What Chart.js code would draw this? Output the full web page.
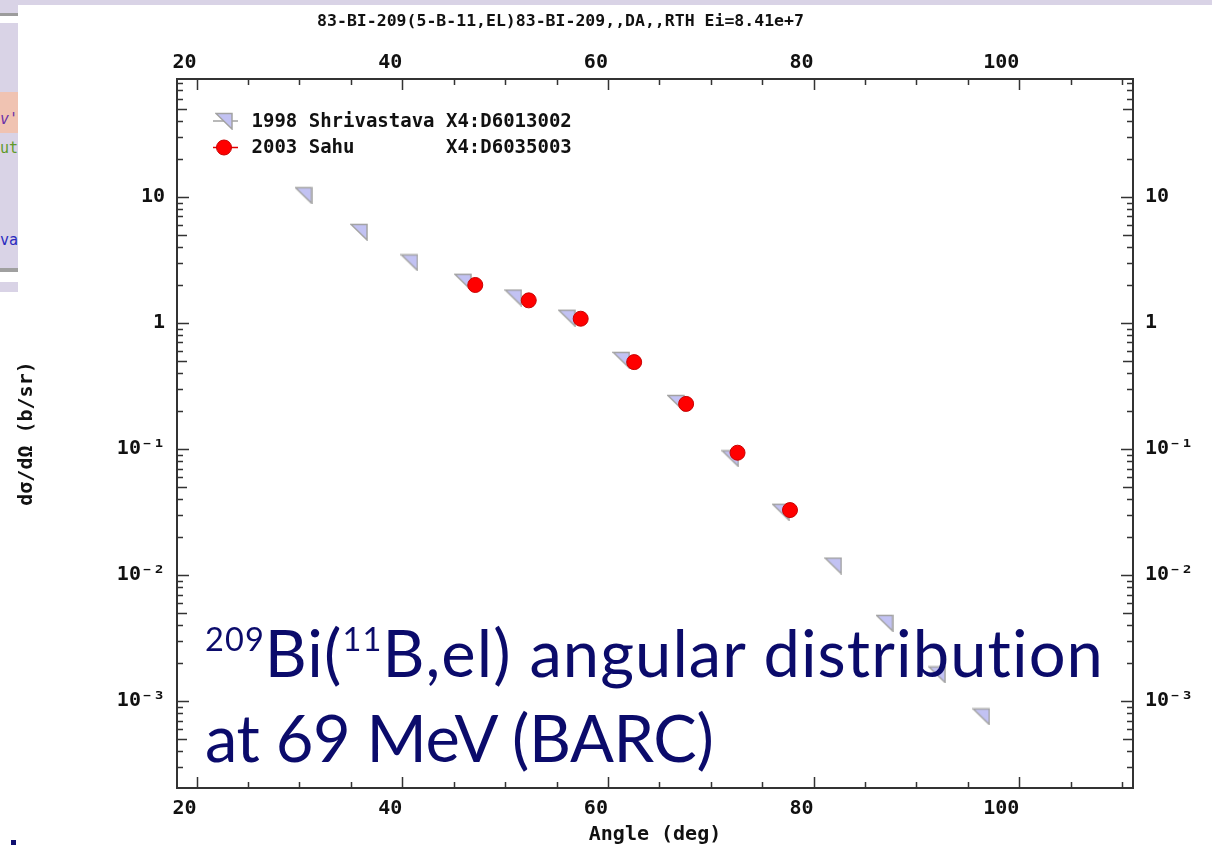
<!DOCTYPE html>
<html>
<head>
<meta charset="utf-8">
<script src="https://cdn.jsdelivr.net/npm/chart.js@4.4.0/dist/chart.umd.min.js"></script>
<style>
  html, body { margin: 0; padding: 0; background: #fff; }
  #wrap { position: relative; width: 1212px; height: 845px; overflow: hidden; background: #fff; }
  #plot { position: absolute; left: 0; top: 0; }
  #strip { position: absolute; left: 0; top: 0; width: 1212px; height: 5px; background: #d9d3e6; }
  #panel { position: absolute; left: 0; top: 0; width: 18px; height: 292px; overflow: hidden; background: #d9d3e6; }
  #panel .band { position: absolute; left: 0; width: 18px; }
  #panel .frag { position: absolute; right: 0; font: 15px "DejaVu Sans Mono", monospace; white-space: nowrap; }
  #dot { position: absolute; left: 11px; top: 840px; width: 5px; height: 5px; background: #101070; }
  #note { position: absolute; left: 205px; top: 610px; font-family: Lato, sans-serif; font-size: 65px;
          line-height: 85px; color: #0b0b6b; white-space: nowrap; font-variant-ligatures: none; }
  #note .l1 { letter-spacing: 1.1px; }
  #note .l2 { letter-spacing: -0.4px; }
  #note sup { font-size: 0.5em; line-height: 0; vertical-align: baseline; position: relative; top: -0.8em; }
</style>
</head>
<body>
<div id="wrap">
  <canvas id="plot" width="1212" height="845"></canvas>
  <div id="strip"></div>
  <div id="panel">
    <div class="band" style="top:13px;height:3px;background:#9c9c9c"></div>
    <div class="band" style="top:16px;height:7px;background:#fff"></div>
    <div class="band" style="top:92px;height:41px;background:#f0c3b2"></div>
    <div class="band" style="top:268px;height:4px;background:#a0a0a0"></div>
    <div class="band" style="top:272px;height:10px;background:#fff"></div>
    <span class="frag" style="top:110px;color:#6a2fa8;font-style:italic">v'</span>
    <span class="frag" style="top:139px;color:#5f9a2a">ut</span>
    <span class="frag" style="top:231px;color:#2b2bbf">va</span>
  </div>
  <div id="dot"></div>
  <div id="note"><span class="l1"><sup>209</sup>Bi(<sup>11</sup>B,el) angular distribution</span><br><span class="l2">at 69 MeV (BARC)</span></div>
</div>
<script>
// 83-Bi-209(5-B-11,el) differential cross sections, angle in deg, dσ/dΩ in b/sr
const shrAngle = [30.4, 35.8, 40.7, 45.9, 50.8, 56.0, 61.3, 66.6, 71.9, 76.8, 81.9, 86.9, 92.0, 96.3];
const shrSigma = [10.3, 5.27, 3.02, 2.12, 1.59, 1.10, 0.509, 0.232, 0.0844, 0.0318, 0.0119, 0.00418, 0.00163, 0.000757];

const sahAngle = [47.1, 52.3, 57.35, 62.55, 67.6, 72.6, 77.7];
const sahSigma = [2.00, 1.51, 1.08, 0.489, 0.228, 0.0935, 0.0328];

const xTicks = [20, 40, 60, 80, 100];
const yTicks = [10, 1, 0.1, 0.01, 0.001];
const yTickText = ['10', '1', '10⁻¹', '10⁻²', '10⁻³'];

const X_MIN = 18.1, X_MAX = 111.05;
const Y_MIN = 2.05e-4, Y_MAX = 86;

const plotTitle = '83-BI-209(5-B-11,EL)83-BI-209,,DA,,RTH Ei=8.41e+7';
const MONO = '"DejaVu Sans Mono", monospace';
const INK = '#111';

// lavender right-angle triangle used for the 1998 set
function makeTriangle() {
    const c = document.createElement('canvas');
    c.width = 18;
    c.height = 18;
    const g = c.getContext('2d');
    g.beginPath();
    g.moveTo(1, 1.5);
    g.lineTo(17, 1.5);
    g.lineTo(17, 17);
    g.closePath();
    g.fillStyle = '#c2c2f3';
    g.fill();
    g.strokeStyle = '#a2a2a2';
    g.lineWidth = 1.5;
    g.stroke();
    return c;
}
const triangle = makeTriangle();

// inward tick marks on all four sides of the frame
const frameTicks = {
    id: 'frameTicks',
    afterDraw(chart) {
        const { ctx, chartArea: a, scales: { x, y } } = chart;
        ctx.save();
        ctx.strokeStyle = '#333';
        ctx.lineWidth = 1.5;
        ctx.beginPath();
        for (let v = 20; v <= X_MAX; v += 5) {
            const px = Math.round(x.getPixelForValue(v)) + 0.5;
            const len = v % 20 === 0 ? 11 : 6;
            ctx.moveTo(px, a.bottom);
            ctx.lineTo(px, a.bottom - len);
            ctx.moveTo(px, a.top);
            ctx.lineTo(px, a.top + len);
        }
        for (let d = -4; d <= 1; d++) {
            for (let k = 1; k <= 9; k++) {
                const v = k * Math.pow(10, d);
                if (v < Y_MIN || v > Y_MAX) continue;
                const py = Math.round(y.getPixelForValue(v)) + 0.5;
                const len = k === 1 ? 12 : (k === 5 ? 10 : 6);
                ctx.moveTo(a.left, py);
                ctx.lineTo(a.left + len, py);
                ctx.moveTo(a.right, py);
                ctx.lineTo(a.right - len, py);
            }
        }
        ctx.stroke();
        ctx.restore();
    }
};

// legend box in the upper left of the plot, plus the reaction title
const seriesLegend = {
    id: 'seriesLegend',
    afterDraw(chart) {
        const { ctx, chartArea: a } = chart;
        ctx.save();
        chart.data.datasets.forEach((ds, i) => {
            const cy = a.top + 42 + i * 26.5;
            const cx = a.left + 47;
            ctx.strokeStyle = ds.legendLine;
            ctx.lineWidth = 1.5;
            ctx.beginPath();
            ctx.moveTo(cx - 11, cy);
            ctx.lineTo(cx + 14, cy);
            ctx.stroke();
            ctx.fillStyle = ds.backgroundColor;
            ctx.strokeStyle = ds.borderColor;
            ctx.lineWidth = ds.borderWidth;
            Chart.helpers.drawPoint(ctx, {
                pointStyle: ds.pointStyle,
                radius: ds.pointRadius,
                borderWidth: ds.borderWidth,
                rotation: 0
            }, cx, cy);
            ctx.fillStyle = INK;
            ctx.font = 'bold 19px ' + MONO;
            ctx.textBaseline = 'middle';
            ctx.textAlign = 'left';
            ctx.fillText(ds.label, a.left + 74.5, cy + 1);
        });
        ctx.font = 'bold 16.5px ' + MONO;
        ctx.textAlign = 'center';
        ctx.fillText(plotTitle, a.left + 383.5, 22);
        ctx.restore();
    }
};

const tickFont = { family: MONO, size: 20, weight: 'bold' };

function xAxis(pos, size, pad) {
    return {
        type: 'linear',
        position: pos,
        min: X_MIN,
        max: X_MAX,
        afterBuildTicks: s => { s.ticks = xTicks.map(v => ({ value: v })); },
        afterFit: s => { s.height = size; },
        ticks: { font: tickFont, color: INK, padding: pad, maxRotation: 0, autoSkip: false, align: 'end' },
        grid: { display: false, drawTicks: false },
        border: { display: true, color: '#333', width: 2 }
    };
}

function yAxis(pos, size) {
    return {
        type: 'logarithmic',
        position: pos,
        min: Y_MIN,
        max: Y_MAX,
        afterBuildTicks: s => { s.ticks = yTicks.map(v => ({ value: v })); },
        afterFit: s => { s.width = size; },
        ticks: {
            font: tickFont,
            color: INK,
            padding: 12,
            autoSkip: false,
            callback: v => yTickText[yTicks.indexOf(v)]
        },
        grid: { display: false, drawTicks: false },
        border: { display: true, color: '#333', width: 2 }
    };
}

const scales = {
    x: xAxis('bottom', 57, 9),
    x2: xAxis('top', 79, 4),
    y: yAxis('left', 177),
    y2: yAxis('right', 79)
};
scales.x.title = {
    display: true,
    text: 'Angle (deg)',
    color: INK,
    font: { family: MONO, size: 20, weight: 'bold', lineHeight: 1 },
    padding: { top: 0, bottom: 0 }
};
scales.y.title = {
    display: true,
    text: 'dσ/dΩ (b/sr)',
    color: INK,
    font: { family: MONO, size: 20, weight: 'bold', lineHeight: 1 },
    padding: { top: 17, bottom: 0 }
};

new Chart(document.getElementById('plot'), {
    type: 'scatter',
    data: {
        datasets: [
            {
                label: '1998 Shrivastava X4:D6013002',
                data: shrAngle.map((a, i) => ({ x: a, y: shrSigma[i] })),
                pointStyle: triangle,
                pointRadius: 8,
                backgroundColor: '#c2c2f3',
                borderColor: '#a2a2a2',
                borderWidth: 0,
                legendLine: '#a2a2a2',
                order: 2
            },
            {
                label: '2003 Sahu        X4:D6035003',
                data: sahAngle.map((a, i) => ({ x: a, y: sahSigma[i] })),
                pointStyle: 'circle',
                pointRadius: 7.5,
                backgroundColor: '#ff0000',
                borderColor: '#c80000',
                borderWidth: 1,
                legendLine: '#e00000',
                order: 1
            }
        ]
    },
    options: {
        responsive: false,
        animation: false,
        events: [],
        layout: { padding: 0 },
        scales: scales,
        plugins: {
            legend: { display: false },
            tooltip: { enabled: false },
            title: { display: false }
        }
    },
    plugins: [frameTicks, seriesLegend]
});
</script>
</body>
</html>
